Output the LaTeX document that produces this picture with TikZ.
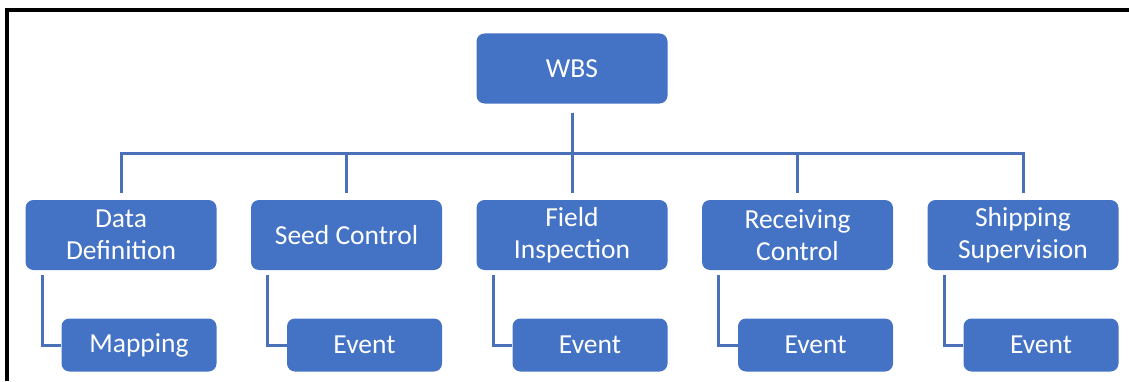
\documentclass[tikz,border=0pt]{standalone}
\usepackage{fontspec}
\setmainfont{Carlito}
\usetikzlibrary{calc}

\definecolor{wbsblue}{HTML}{4472C4}
\definecolor{wbsline}{HTML}{4A70B8}

\tikzstyle{box} = [rectangle, rounded corners=8pt, fill=wbsblue, text=white, align=center, font=\fontsize{27.5}{32}\selectfont, minimum width=191pt, minimum height=70pt, inner sep=0pt]
\tikzstyle{leaf} = [box, minimum width=155pt, minimum height=53pt]
\tikzstyle{link} = [draw=wbsline, line width=3pt]

\begin{document}
\begin{tikzpicture}[x=1pt, y=1pt, grow=down,
    edge from parent/.style={link, shorten <=9pt, shorten >=7pt},
    level 1/.style={sibling distance=225.5pt, level distance=166.5pt,
        edge from parent path={(\tikzparentnode.south) -- ++(0,-50) -| (\tikzchildnode.north)}},
    level 2/.style={level distance=110pt,
        edge from parent/.append style={shorten <=5pt, shorten >=0pt},
        edge from parent path={($(\tikzparentnode.south west)+(17,0)$) |- (\tikzchildnode.west)}}]
\useasboundingbox (0,0) rectangle (1129,381);
\draw[line width=3.5pt] (7,0) -- (7,371) -- (1129,371);

\node[box] (wbs) at (572,312.5) {WBS}
    child {
        node[box] (datadef) {Data\\Definition}
            child {node[leaf, xshift=18pt] (mapping) {Mapping}}
    }
    child {
        node[box] (seedctl) {Seed Control}
            child {node[leaf, xshift=18pt] (seedevt) {Event}}
    }
    child {
        node[box] (fieldins) {Field\\Inspection}
            child {node[leaf, xshift=18pt] (fieldevt) {Event}}
    }
    child {
        node[box] (recvctl) {Receiving\\Control}
            child {node[leaf, xshift=18pt] (recvevt) {Event}}
    }
    child {
        node[box] (shipsup) {Shipping\\Supervision}
            child {node[leaf, xshift=18pt] (shipevt) {Event}}
    };
\end{tikzpicture}
\end{document}
